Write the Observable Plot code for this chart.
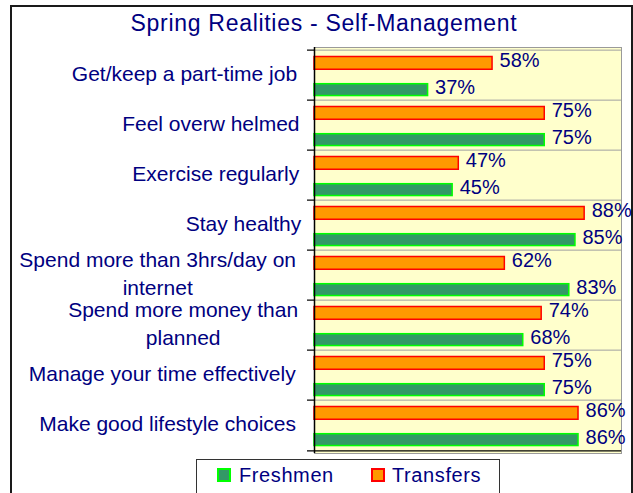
<!DOCTYPE html>
<html><head><meta charset="utf-8">
<script src="https://cdn.jsdelivr.net/npm/d3@7"></script>
<script src="https://cdn.jsdelivr.net/npm/@observablehq/plot@0.6"></script>
<style>
body{margin:0;background:#fff;}
#wrap{position:relative;width:633px;height:493px;overflow:hidden;font-family:"Liberation Sans",Arial,sans-serif;color:#000080;}
#border{position:absolute;left:10px;top:5px;width:619px;height:500px;border:2px solid #1a1a1a;}
#title{position:absolute;left:0;top:12px;width:648px;text-align:center;font-size:23px;line-height:23px;letter-spacing:0.7px;}
#chart{position:absolute;left:0;top:0;}
#legend{position:absolute;left:196px;top:459px;width:302px;height:45px;border:1.5px solid #333;background:#fff;}
.item{position:absolute;top:3px;font-size:20px;line-height:24px;letter-spacing:0.6px;}
.sw{position:absolute;top:8px;width:10px;height:10px;border:2px solid;}
g[aria-label="category labels"] text{letter-spacing:0.7px;}
</style>
</head><body>
<div id="wrap">
  <div id="border"></div>
  <div id="title">Spring Realities - Self-Management</div>
  <div id="chart"></div>
  <div id="legend">
    <span class="sw" style="left:20px;background:#339966;border-color:#00ff00"></span>
    <span class="item" style="left:42px">Freshmen</span>
    <span class="sw" style="left:174px;background:#ff9900;border-color:#ff0000"></span>
    <span class="item" style="left:195px">Transfers</span>
  </div>
</div>
<script>
const categories = [
  "Get/keep a part-time job",
  "Feel overw helmed",
  "Exercise regularly",
  "Stay healthy",
  "Spend more than 3hrs/day on\ninternet",
  "Spend more money than\nplanned",
  "Manage your time effectively",
  "Make good lifestyle choices"
];
const transfers = [58, 75, 47, 88, 62, 74, 75, 86];
const freshmen  = [37, 75, 45, 85, 83, 68, 75, 86];

const W = 633, H = 493, mt = 47, mb = 40, ml = 314, mr = 12;
const bw = (H - mt - mb) / categories.length;
const plotW = W - ml - mr;
const labelSize = 21, labelSpacing = 0.7, labelGap = 9;

const tData = categories.map((c, i) => ({cat: c, value: transfers[i]}));
const fData = categories.map((c, i) => ({cat: c, value: freshmen[i]}));

// measure label line widths with a temporary SVG text
const ns = "http://www.w3.org/2000/svg";
const msvg = document.createElementNS(ns, "svg");
msvg.setAttribute("width", 10); msvg.setAttribute("height", 10);
msvg.style.position = "absolute"; msvg.style.left = "-2000px";
document.body.appendChild(msvg);
const mtext = document.createElementNS(ns, "text");
mtext.setAttribute("font-family", "'Liberation Sans', Arial, sans-serif");
mtext.setAttribute("font-size", labelSize);
mtext.style.letterSpacing = labelSpacing + "px";
msvg.appendChild(mtext);
function lineW(s) { mtext.textContent = s; return mtext.getComputedTextLength(); }

const labelMarks = categories.map(c => {
  const w = Math.max(...c.split("\n").map(lineW));
  return Plot.text([c], {
    y: d => d, text: d => d, frameAnchor: "left", textAnchor: "middle",
    dx: -(labelGap + w / 2), dy: -3, fontSize: labelSize, lineHeight: 1.33, fill: "#000080",
    ariaLabel: "category labels"
  });
});
msvg.remove();

const plot = Plot.plot({
  width: W, height: H,
  marginTop: mt, marginBottom: mb, marginLeft: ml, marginRight: mr,
  style: {background: "transparent", overflow: "visible", fontFamily: "'Liberation Sans', Arial, sans-serif"},
  x: {domain: [0, 100], axis: null},
  y: {domain: categories, axis: null, padding: 0},
  marks: [
    Plot.frame({fill: "#FFFFCC", stroke: "#9a9a9a"}),
    Plot.tickY(categories, {y: d => d, dy: -bw / 2, stroke: "#a0a0a0"}),
    Plot.tickY(categories, {y: d => d, dy: -bw / 2, stroke: "#000", strokeWidth: 1.2, insetLeft: -7, insetRight: plotW}),
    Plot.tickY(categories.slice(-1), {y: d => d, dy: bw / 2, stroke: "#000", strokeWidth: 1.2, insetLeft: -7, insetRight: 0}),
    Plot.barX(tData, {x: "value", y: "cat", fill: "#FF9900", stroke: "#FF0000", strokeWidth: 1.5, insetTop: 6.5, insetBottom: 30.75}),
    Plot.barX(fData, {x: "value", y: "cat", fill: "#339966", stroke: "#00FF00", strokeWidth: 1.5, insetTop: 33.7, insetBottom: 4.45}),
    Plot.ruleX([0], {stroke: "#000", strokeWidth: 1.5}),
    Plot.text(tData, {x: "value", y: "cat", text: d => d.value + "%", dx: 7, dy: -15, textAnchor: "start", fontSize: 20, fill: "#000080"}),
    Plot.text(fData, {x: "value", y: "cat", text: d => d.value + "%", dx: 7, dy: 12.5, textAnchor: "start", fontSize: 20, fill: "#000080"}),
    ...labelMarks
  ]
});
document.getElementById("chart").appendChild(plot);
</script>
</body></html>
